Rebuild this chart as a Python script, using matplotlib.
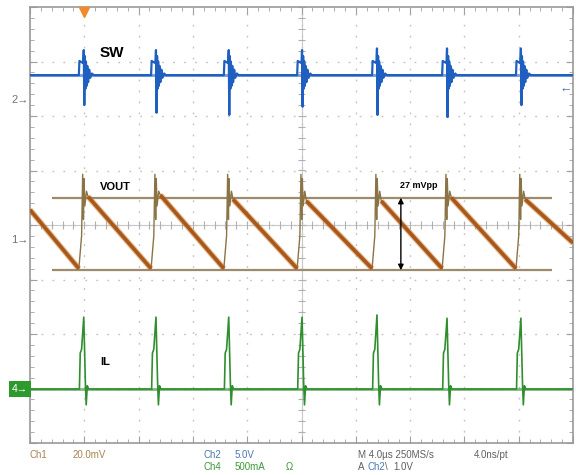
import numpy as np
import matplotlib
matplotlib.use("Agg")
import matplotlib.pyplot as plt

plt.rcParams['font.family'] = ['Liberation Sans', 'DejaVu Sans']

# screen is 10 x 8 divisions, x in div (4 us/div), y in div from centre
edges = [1.01, 2.34, 3.68, 5.03, 6.41, 7.70, 9.06]   # switching instants

# SW (Ch2)
sw_base = 2.75
sw_step = 3.01
sw_up = [3.21, 3.21, 3.21, 3.21, 3.24, 3.24, 3.24]
sw_down = [2.20, 2.06, 2.02, 2.17, 2.02, 1.98, 2.20]
sw_ring_dt = [0.0, 0.01, 0.02, 0.03, 0.045, 0.06, 0.08, 0.10, 0.13, 0.16]
sw_ring_v = [3.10, 2.50, 3.00, 2.55, 2.92, 2.62, 2.85, 2.70, 2.78, 2.75]

# VOUT (Ch1, 20 mV/div)
vout_start = 0.28
vout_end = -0.33
vout_peak = [0.52, 0.55, 0.47, 0.44, 0.44, 0.50, 0.47]
vout_min = [-0.80, -0.80, -0.80, -0.80, -0.80, -0.80, -0.80]
vout_edge_dt = [-0.06, -0.04, -0.025, -0.015, 0.0, 0.03]
vout_edge_v = [-0.20, 0.93, 0.10, 0.85, 0.35, 0.62]
cursor_top = 0.50
cursor_bot = -0.83

# IL (Ch4, 500 mA/div)
il_base = -3.01
il_peak = [-1.69, -1.69, -1.69, -1.69, -1.65, -1.71, -1.71]
il_shape_dt = [-0.10, -0.085, -0.06, -0.02, 0.01, 0.025, 0.045, 0.07]
il_shape_v = [il_base, -2.35, -2.28, None, -2.90, -3.30, -2.95, il_base]

fig = plt.figure(figsize=(5.76, 4.75), dpi=100)
ax = fig.add_axes([30 / 576, 1 - 443 / 475, 543 / 576, 436 / 475])
ax.set_xlim(0, 10)
ax.set_ylim(-4, 4)

# graticule
for x in range(1, 10):
    ax.axvline(x, color='#c4c4c4', lw=1, ls=(0, (1.3, 6.6)), zorder=0)
for y in range(-3, 4):
    ax.axhline(y, color='#c4c4c4', lw=1, ls=(0, (1.3, 6.6)), zorder=0)
ax.axhline(0, color='#c8c8c8', lw=0.8, zorder=0)
ax.axvline(5, color='#c8c8c8', lw=0.8, zorder=0)
ax.vlines(np.arange(0, 10.01, 0.2), -0.07, 0.07, color='#b0b0b0', lw=0.8, zorder=0)
ax.hlines(np.arange(-4, 4.01, 0.2), 4.93, 5.07, color='#b0b0b0', lw=0.8, zorder=0)
ax.set_xticks(range(0, 11))
ax.set_yticks(range(-4, 5))
ax.set_xticks(np.arange(0, 10.01, 0.2), minor=True)
ax.set_yticks(np.arange(-4, 4.01, 0.2), minor=True)
ax.tick_params(which='both', direction='in', top=True, right=True, color='#a0a0a0',
               labelbottom=False, labelleft=False)
ax.tick_params(which='major', length=5)
ax.tick_params(which='minor', length=3)
for s in ax.spines.values():
    s.set_color('#9a9a9a')
    s.set_linewidth(1.2)

# SW trace
sx, sy = [0], [sw_base]
for i, e in enumerate(edges):
    sx += [e - 0.11, e - 0.10, e - 0.03, e - 0.02, e - 0.01]
    sy += [sw_base, sw_step, sw_step - 0.04, sw_up[i], sw_down[i]]
    sx += [e + d for d in sw_ring_dt]
    sy += sw_ring_v
sx.append(10)
sy.append(sw_base)
ax.plot(sx, sy, color='#1f5fbf', lw=1.6, zorder=3)
ax.plot([0, 10], [sw_base, sw_base], color='#2a66c0', lw=2.2, alpha=0.6, zorder=2)

# VOUT trace: slow ramps thick, fast edges thin
ramp_x = [0] + [e + 0.06 for e in edges]
ramp_y = [vout_start] + vout_peak
ramp_end_x = [e - 0.11 for e in edges] + [10]
ramp_end_y = vout_min + [vout_end]
for i, e in enumerate(edges):
    ex = [e - 0.11] + [e + d for d in vout_edge_dt] + [e + 0.06]
    ey = [vout_min[i]] + vout_edge_v + [vout_peak[i]]
    ax.plot(ex, ey, color='#8a7445', lw=1.0, zorder=3)
for x0, y0, x1, y1 in zip(ramp_x, ramp_y, ramp_end_x, ramp_end_y):
    ax.plot([x0, x1], [y0, y1], color='#c77a2c', lw=4.2, alpha=0.5,
            solid_capstyle='butt', zorder=4)
    ax.plot([x0, x1], [y0, y1], color='#a9581a', lw=2.6,
            solid_capstyle='butt', zorder=4)

# cursors and ripple annotation
ax.hlines([cursor_top, cursor_bot], 0.405, 9.61, color='#9e8a6c', lw=1.6, zorder=2)
ax.annotate('', xy=(6.83, cursor_top), xytext=(6.83, cursor_bot),
            arrowprops=dict(arrowstyle='<|-|>', color='black', lw=1,
                            mutation_scale=8, shrinkA=0, shrinkB=0), zorder=6)
ax.text(6.81, 0.73, '27 mVpp', fontsize=6.5, fontweight='bold', va='center', zorder=6)

# IL trace
lx, ly = [0], [il_base]
for i, e in enumerate(edges):
    lx += [e + d for d in il_shape_dt]
    ly += [il_peak[i] if v is None else v for v in il_shape_v]
lx.append(10)
ly.append(il_base)
ax.plot(lx, ly, color='#2f8f2f', lw=1.2, zorder=3)
ax.plot([0, 10], [il_base, il_base], color='#2a8a2a', lw=2.0, alpha=0.6, zorder=2)

# trace labels
ax.text(1.29, 3.16, 'SW', fontsize=11, fontweight='bold', va='center')
ax.text(1.29, 0.70, 'VOUT', fontsize=8, fontweight='bold', va='center')
ax.text(1.29, -2.51, 'IL', fontsize=8, fontweight='bold', va='center')

# channel markers
ax.text(-0.03, 2.29, '2\u2192', fontsize=8, color='#707080', ha='right', va='center', clip_on=False)
ax.text(-0.03, -0.28, '1\u2192', fontsize=8, color='#707070', ha='right', va='center', clip_on=False)
ax.text(-0.03, -3.01, '4\u2192', fontsize=7.5, color='white', ha='right', va='center', clip_on=False,
        bbox=dict(boxstyle='square,pad=0.3', fc='#2e9a2e', ec='none'))
ax.text(9.98, 2.48, '\u2190', fontsize=9, color='#3a6aa8', ha='right', va='center')
ax.plot(1.0, 3.90, marker='v', color='#f08a2a', ms=7, clip_on=False, zorder=6)

# status bar
y1, y2 = 1 - 455 / 475, 1 - 467 / 475
tan, blue, green, grey = '#a88450', '#4a7ab0', '#3a9a3a', '#606060'
fig.text(30 / 576, y1, 'Ch1', fontsize=7, color=tan, va='center')
fig.text(73 / 576, y1, '20.0mV', fontsize=7, color=tan, va='center')
fig.text(203 / 576, y1, 'Ch2', fontsize=7, color=blue, va='center')
fig.text(235 / 576, y1, '5.0V', fontsize=7, color=blue, va='center')
fig.text(203 / 576, y2, 'Ch4', fontsize=7, color=green, va='center')
fig.text(235 / 576, y2, '500mA', fontsize=7, color=green, va='center')
fig.text(286 / 576, y2, '\u03a9', fontsize=7, color=green, va='center')
fig.text(358 / 576, y1, 'M 4.0\u00b5s 250MS/s', fontsize=7, color=grey, va='center')
fig.text(474 / 576, y1, '4.0ns/pt', fontsize=7, color=grey, va='center')
fig.text(358 / 576, y2, 'A', fontsize=7, color=grey, va='center')
fig.text(368 / 576, y2, 'Ch2', fontsize=7, color=blue, va='center')
fig.text(385 / 576, y2, '\\', fontsize=7, color=grey, va='center')
fig.text(393 / 576, y2, '1.0V', fontsize=7, color=grey, va='center')

fig.savefig('out.png', dpi=100)
